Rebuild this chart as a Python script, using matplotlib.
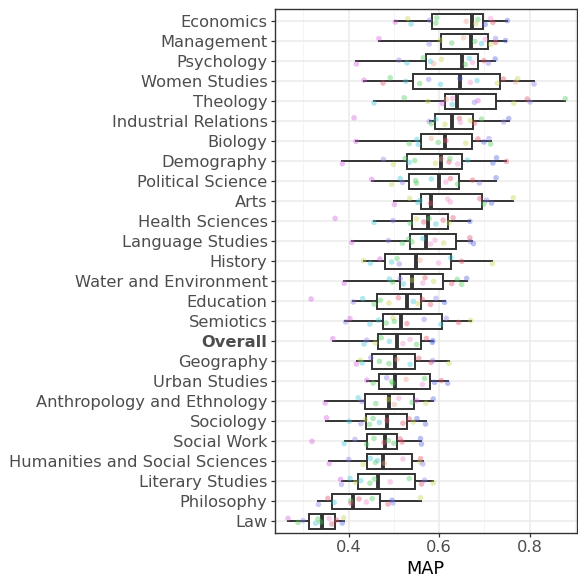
import matplotlib
matplotlib.use("Agg")
import matplotlib.pyplot as plt
from matplotlib.ticker import MultipleLocator

categories = ["Economics", "Management", "Psychology", "Women Studies", "Theology",
              "Industrial Relations", "Biology", "Demography", "Political Science", "Arts",
              "Health Sciences", "Language Studies", "History", "Water and Environment",
              "Education", "Semiotics", "Overall", "Geography", "Urban Studies",
              "Anthropology and Ethnology", "Sociology", "Social Work",
              "Humanities and Social Sciences", "Literary Studies", "Philosophy", "Law"]

whislo = [0.503, 0.467, 0.417, 0.434, 0.456, 0.581, 0.416, 0.386, 0.451, 0.501,
          0.456, 0.407, 0.433, 0.390, 0.410, 0.393, 0.365, 0.418, 0.440, 0.348,
          0.351, 0.392, 0.357, 0.385, 0.333, 0.266]
q1 = [0.585, 0.605, 0.572, 0.542, 0.612, 0.590, 0.559, 0.529, 0.534, 0.561,
      0.540, 0.536, 0.481, 0.514, 0.463, 0.475, 0.465, 0.451, 0.468, 0.436,
      0.439, 0.440, 0.440, 0.421, 0.363, 0.313]
med = [0.672, 0.671, 0.651, 0.646, 0.640, 0.628, 0.614, 0.605, 0.600, 0.583,
       0.576, 0.572, 0.550, 0.540, 0.528, 0.516, 0.506, 0.503, 0.502, 0.489,
       0.484, 0.480, 0.476, 0.465, 0.410, 0.342]
q3 = [0.697, 0.709, 0.687, 0.735, 0.726, 0.674, 0.672, 0.651, 0.644, 0.695,
      0.619, 0.637, 0.626, 0.608, 0.559, 0.607, 0.560, 0.546, 0.579, 0.545,
      0.528, 0.507, 0.539, 0.547, 0.469, 0.370]
whishi = [0.751, 0.747, 0.724, 0.810, 0.879, 0.754, 0.714, 0.749, 0.726, 0.764,
          0.669, 0.672, 0.718, 0.661, 0.612, 0.670, 0.586, 0.622, 0.619, 0.587,
          0.571, 0.561, 0.564, 0.587, 0.559, 0.389]

point_values = [
    [.503, .531, .538, .579, .593, .595, .660, .681, .686, .702, .714, .719, .751],
    [.467, .578, .603, .628, .654, .679, .694, .702, .714, .725, .725, .747],
    [.417, .511, .529, .565, .581, .588, .605, .658, .667, .674, .699, .709, .724],
    [.434, .476, .492, .526, .557, .577, .603, .646, .669, .684, .729, .742, .769, .774, .810],
    [.456, .523, .575, .607, .616, .629, .630, .678, .686, .765, .795, .801, .879],
    [.412, .578, .583, .593, .613, .645, .647, .669, .678, .694, .743, .754],
    [.416, .534, .551, .554, .583, .598, .615, .659, .686, .699, .710, .714],
    [.386, .477, .499, .525, .534, .546, .592, .605, .622, .624, .641, .663, .719, .727, .749],
    [.451, .495, .514, .519, .548, .550, .583, .615, .625, .641, .674, .689, .726],
    [.501, .535, .553, .558, .581, .619, .625, .690, .699, .705, .716, .764],
    [.370, .456, .498, .536, .550, .566, .578, .593, .609, .622, .631, .668],
    [.407, .488, .519, .533, .540, .564, .581, .591, .610, .668, .669, .676],
    [.433, .448, .469, .495, .507, .512, .558, .599, .626, .650, .718],
    [.390, .490, .497, .514, .521, .540, .564, .569, .588, .628, .640, .650, .661],
    [.317, .410, .431, .456, .470, .489, .510, .543, .553, .563, .581, .593, .612],
    [.393, .403, .447, .466, .483, .498, .501, .529, .567, .604, .616, .643, .670],
    [.365, .434, .440, .459, .472, .490, .520, .536, .550, .572, .585, .586],
    [.417, .426, .430, .449, .468, .489, .507, .536, .555, .582, .586, .622],
    [.440, .454, .484, .495, .498, .527, .563, .568, .590, .605, .619],
    [.348, .421, .429, .460, .488, .501, .511, .540, .550, .571, .587],
    [.351, .401, .427, .437, .446, .454, .468, .485, .520, .534, .543, .551, .570],
    [.319, .390, .414, .440, .456, .478, .488, .500, .514, .518, .559, .561],
    [.357, .400, .432, .448, .459, .464, .479, .520, .558, .559, .564],
    [.382, .384, .403, .415, .427, .447, .457, .492, .534, .561, .568, .587],
    [.333, .354, .368, .404, .405, .423, .439, .452, .487, .496, .498, .559],
    [.266, .288, .299, .327, .332, .338, .357, .363, .373, .386, .389],
]

point_colors = [
    "MYCPGGOYGBKRB", "MPYGOGCKYPRB", "MPCGCOYGCKRPB", "MRGCGPCBKCYROYP",
    "CGYMOCKPMYRPG", "MPGCYRKYRGPB", "MGCCOGRYRBPG", "MPYGCGYORGKCBBR",
    "MYCPGGCKRGRPB", "MYCCRKKRGPBY", "MCPGYRGCRYRB", "MPGGGCKKYRPB",
    "YCMCGPOKCRY", "MCGPCYKRYRGGB", "MPCGGYRCYRRPB", "PMCCGYGRPCPRY",
    "MCPYGCKKGRBB", "MYCPGGOCRRPY", "MGPGGOKGBRB", "MCPGYOKGMYB",
    "MCPYGGCRRRYBB", "MCPGGRGGRRBB", "MPYCGCOKYRP", "MPCYCGGKGRPY",
    "PRCGRRKGRBPY", "MGPCGGKRRBY",
]

palette = {"M": "#D65FE0", "P": "#8B7BEA", "B": "#4F62E0", "C": "#3FC9DA",
           "G": "#4CCB5A", "Y": "#C8D44A", "R": "#E0506A", "K": "#EE8FCF",
           "O": "#EDA68A"}

jitter_pattern = [0.05, -0.12, 0.15, -0.04, 0.10, -0.16, 0.02, 0.13, -0.08,
                  0.17, -0.13, 0.07, -0.02, 0.11, -0.10]

fig = plt.figure(figsize=(5.78, 5.78), dpi=100)
ax = fig.add_axes([274.5 / 578, 1 - 533 / 578, (577 - 274.5) / 578, (533 - 9) / 578])

n = len(categories)
positions = list(range(n))

stats = []
for i in range(n):
    stats.append(dict(whislo=whislo[i], q1=q1[i], med=med[i], q3=q3[i],
                      whishi=whishi[i], fliers=[], label=categories[i]))

dark = "#333333"
ax.bxp(stats, positions=positions, orientation="horizontal", widths=0.75,
       showfliers=False, showcaps=False, patch_artist=True,
       boxprops=dict(facecolor="white", edgecolor=dark, linewidth=1.4),
       whiskerprops=dict(color=dark, linewidth=1.4),
       medianprops=dict(color=dark, linewidth=2.8, solid_capstyle="butt"),
       zorder=2)

for i in range(n):
    vals = point_values[i]
    cols = point_colors[i]
    ys = [i + jitter_pattern[(k + i) % len(jitter_pattern)] for k in range(len(vals))]
    ax.scatter(vals, ys, s=16, c=[palette[c] for c in cols], alpha=0.4,
               linewidths=0, zorder=3)

ax.set_xlim(0.236, 0.905)
ax.set_ylim(n - 0.4, -0.6)
ax.set_yticks(positions)
ax.set_yticklabels(categories)
for lbl in ax.get_yticklabels():
    if lbl.get_text() == "Overall":
        lbl.set_fontweight("bold")

ax.xaxis.set_minor_locator(MultipleLocator(0.1))
ax.set_xticks([0.4, 0.6, 0.8])
ax.set_xticklabels(["0.4", "0.6", "0.8"])

ax.grid(True, which="major", color="#EBEBEB", linewidth=1.1, zorder=0)
ax.grid(True, which="minor", axis="x", color="#F3F3F3", linewidth=0.6, zorder=0)
ax.set_axisbelow(True)

ax.tick_params(axis="both", which="major", length=3, width=0.9, color=dark,
               labelcolor="#4D4D4D", labelsize=11.7, pad=2)
ax.tick_params(axis="x", which="minor", length=0)
for sp in ax.spines.values():
    sp.set_color(dark)
    sp.set_linewidth(1.0)

ax.set_xlabel("MAP", fontsize=12.8, color="black", labelpad=4)
ax.set_ylabel("")

fig.savefig("out.png", dpi=100)
